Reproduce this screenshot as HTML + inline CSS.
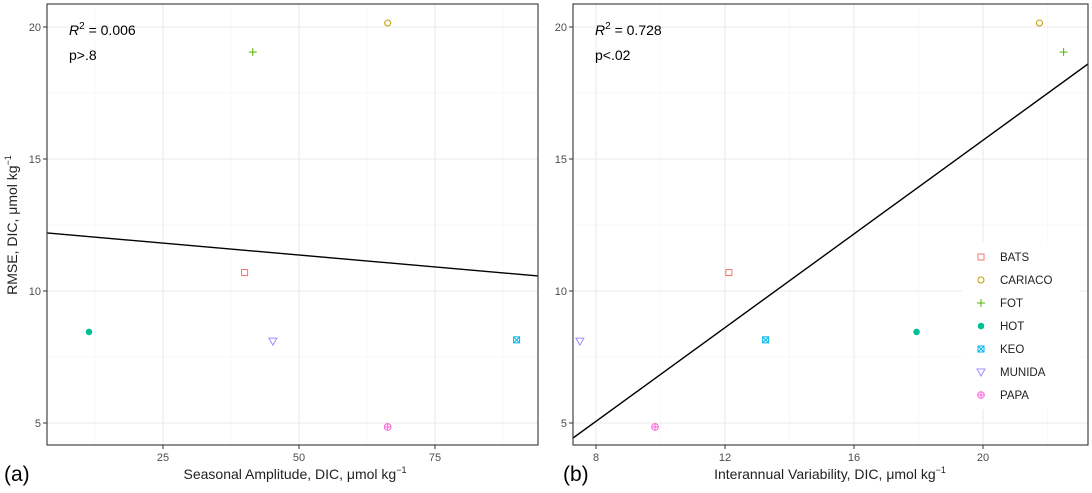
<!DOCTYPE html>
<html><head><meta charset="utf-8"><style>
body{margin:0;background:#fff;width:1092px;height:488px;overflow:hidden}
svg{font-family:"Liberation Sans",sans-serif}
</style></head><body>
<svg id="s" width="1092" height="488"></svg>
<script>
const stations=["BATS","CARIACO","FOT","HOT","KEO","MUNIDA","PAPA"];
const colors=["#F8766D","#C49A00","#53B400","#00C094","#00B6EB","#A58AFF","#FB61D7"];
const rmse=[10.7,20.15,19.05,8.45,8.15,8.1,4.85];
const seasonal=[40,66.3,41.5,11.4,90,45.2,66.3];
const interannual=[12.12,21.75,22.5,17.94,13.26,7.5,9.83];
const fitA=[12.2,10.57];
const fitB=[4.43,18.6];
const yTicks=[5,10,15,20];
const xTicksA=[25,50,75];
const xTicksB=[8,12,16,20];
const NS="http://www.w3.org/2000/svg";
const svg=document.getElementById('s');
function mk(t,a,p){const e=document.createElementNS(NS,t);for(const k in a)e.setAttribute(k,a[k]);(p||svg).appendChild(e);return e;}
const yTop=4,bot=445;
const ys=v=>423-(v-5)*26.4;
function marker(g,i,cx,cy){
 const c=colors[i];
 if(i===0)mk('rect',{x:cx-3,y:cy-3,width:6,height:6,fill:'none',stroke:c},g);
 else if(i===1)mk('circle',{cx:cx,cy:cy,r:3,fill:'none',stroke:c},g);
 else if(i===2){mk('line',{x1:cx-4,y1:cy,x2:cx+4,y2:cy,stroke:c},g);mk('line',{x1:cx,y1:cy-4,x2:cx,y2:cy+4,stroke:c},g);}
 else if(i===3)mk('circle',{cx:cx,cy:cy,r:3.3,fill:c},g);
 else if(i===4){mk('rect',{x:cx-3,y:cy-3,width:6,height:6,fill:'none',stroke:c},g);mk('line',{x1:cx-3,y1:cy-3,x2:cx+3,y2:cy+3,stroke:c},g);mk('line',{x1:cx+3,y1:cy-3,x2:cx-3,y2:cy+3,stroke:c},g);}
 else if(i===5)mk('polygon',{points:`${cx-4},${cy-3} ${cx+4},${cy-3} ${cx},${cy+4}`,fill:'none',stroke:c},g);
 else {mk('circle',{cx:cx,cy:cy,r:3.3,fill:'none',stroke:c},g);mk('line',{x1:cx-3,y1:cy,x2:cx+3,y2:cy,stroke:c},g);mk('line',{x1:cx,y1:cy-3,x2:cx,y2:cy+3,stroke:c},g);}
}
function panel(name,L,R,xs,xmin,xmax,xt,xminor,xv,fit,xtitle,lab,r2,p,xtitleX){
 const g=mk('g',{});
 const cg=mk('clipPath',{id:'c'+name},g);mk('rect',{x:L,y:yTop,width:R-L,height:bot-yTop},cg);
 [7.5,12.5,17.5].forEach(v=>mk('line',{x1:L,x2:R,y1:ys(v),y2:ys(v),stroke:'#f3f3f3','stroke-width':0.6},g));
 xminor.forEach(v=>mk('line',{x1:xs(v),x2:xs(v),y1:yTop,y2:bot,stroke:'#f3f3f3','stroke-width':0.6},g));
 yTicks.forEach(v=>{mk('line',{x1:L,x2:R,y1:ys(v),y2:ys(v),stroke:'#ebebeb','stroke-width':1.1},g);
  mk('line',{x1:L-4,x2:L,y1:ys(v),y2:ys(v),stroke:'#333'},g);
  const t=mk('text',{x:L-6,y:ys(v)+4,'text-anchor':'end','font-size':11,fill:'#4d4d4d'},g);t.textContent=v;
  });
 xt.forEach(v=>{mk('line',{x1:xs(v),x2:xs(v),y1:yTop,y2:bot,stroke:'#ebebeb','stroke-width':1.1},g);
  mk('line',{x1:xs(v),x2:xs(v),y1:bot,y2:bot+4,stroke:'#333'},g);
  const t=mk('text',{x:xs(v),y:bot+16,'text-anchor':'middle','font-size':11,fill:'#4d4d4d'},g);t.textContent=v;
  });
 const ln=mk('line',{x1:xs(xmin),y1:ys(fit[0]),x2:xs(xmax),y2:ys(fit[1]),stroke:'#000','stroke-width':1.4,'clip-path':`url(#c${name})`},g);
 
 stations.forEach((s,i)=>{const mg=mk('g',{},g);marker(mg,i,xs(xv[i]),ys(rmse[i]));});
 mk('rect',{x:L,y:yTop,width:R-L,height:bot-yTop,fill:'none',stroke:'#333','stroke-width':1.1},g);
 const r=mk('text',{x:L+22,y:35,'font-size':14},g);r.innerHTML='<tspan font-style="italic">R</tspan><tspan dy="-6" font-size="10">2</tspan><tspan dy="6"> = '+r2+'</tspan>';
 
 const pt=mk('text',{x:L+22,y:60,'font-size':14},g);pt.textContent=p;
 const xt2=mk('text',{x:xtitleX,y:479,'text-anchor':'middle','font-size':14,fill:'#222'},g);xt2.innerHTML=xtitle+', μmol kg<tspan dy="-6" font-size="9">−1</tspan>';
 
 const pl=mk('text',{x:lab[1],y:481,'font-size':21},g);pl.textContent=lab[0];
}
const xsA=v=>27+v*5.44;
const xsB=v=>596+(v-8)*32.25;
panel('panel-a',47,538,xsA,(47-27)/5.44,(538-27)/5.44,xTicksA,[12.5,37.5,62.5,87.5],seasonal,fitA,'Seasonal Amplitude, DIC',['(a)',4],'0.006','p>.8',295);
panel('panel-b',573,1088,xsB,8+(573-596)/32.25,8+(1088-596)/32.25,xTicksB,[10,14,18,22],interannual,fitB,'Interannual Variability, DIC',['(b)',563],'0.728','p<.02',830);
const yt=mk('text',{transform:'translate(17,225) rotate(-90)','text-anchor':'middle','font-size':14,fill:'#222'});
yt.innerHTML='RMSE, DIC, μmol kg<tspan dy="-6" font-size="9">−1</tspan>';

const lg=mk('g',{});
mk('rect',{x:962,y:243,width:118,height:166,fill:'#fff'},lg);
stations.forEach((s,i)=>{const eg=mk('g',{},lg);
 const y=257+i*23;marker(eg,i,981,y);const t=mk('text',{x:1000,y:y+4,'font-size':11.5,fill:'#222'},eg);t.textContent=s;});
</script>
</body></html>
